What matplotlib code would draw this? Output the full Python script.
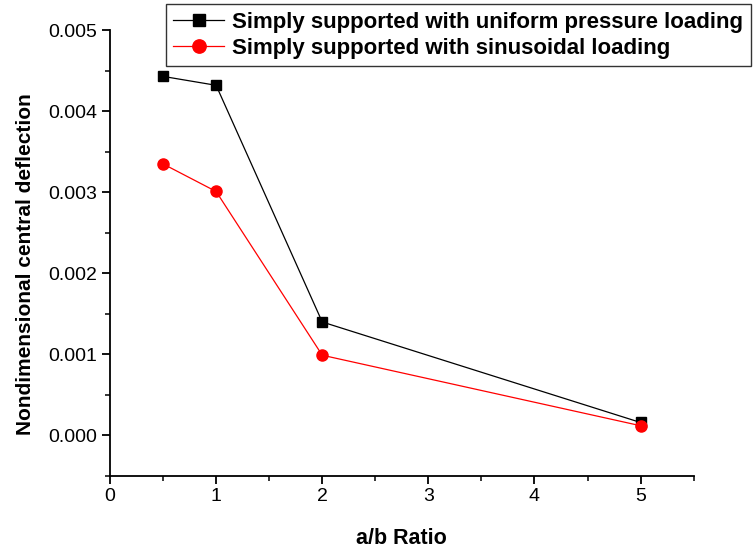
import matplotlib.pyplot as plt

# 数据
ratio = [0.5, 1, 2, 5]
uniform = [0.00443, 0.00432, 0.00140, 0.00016]
sinusoidal = [0.00335, 0.00301, 0.00099, 0.00012]

plt.rcParams['font.family'] = ['Liberation Sans', 'DejaVu Sans']

fig = plt.figure(figsize=(7.56, 5.49), dpi=100)
ax = fig.add_axes([0.1455, 0.133, 0.772, 0.812])

ax.plot(ratio, uniform, color='black', lw=0.9, marker='s', ms=7,
        label='Simply supported with uniform pressure loading')
ax.plot(ratio, sinusoidal, color='red', lw=0.9, marker='o', ms=8,
        label='Simply supported with sinusoidal loading')

ax.set_xlim(0, 5.5)
ax.set_ylim(-0.0005, 0.005)
ax.set_xticks([0, 1, 2, 3, 4, 5])
ax.set_xticks([0.5, 1.5, 2.5, 3.5, 4.5, 5.5], minor=True)
ax.set_yticks([0, 0.001, 0.002, 0.003, 0.004, 0.005])
ax.set_yticks([-0.0005, 0.0005, 0.0015, 0.0025, 0.0035, 0.0045], minor=True)
ax.yaxis.set_major_formatter(plt.FormatStrFormatter('%.3f'))

for s in ['top', 'right']:
    ax.spines[s].set_visible(False)
for s in ['left', 'bottom']:
    ax.spines[s].set_linewidth(1.3)
ax.tick_params(which='major', direction='out', length=6, width=1.3, labelsize=14, pad=3)
ax.tick_params(which='minor', direction='out', length=3.5, width=1.1)

ax.set_xlabel('a/b Ratio', fontsize=15.5, fontweight='bold', labelpad=16)
ax.set_ylabel('Nondimensional central deflection', fontsize=15, fontweight='bold')
ax.yaxis.set_label_coords(-0.128, 0.475)

leg = fig.legend(loc='upper left', bbox_to_anchor=(0.219, 0.992), frameon=True,
                 fancybox=False, edgecolor='black', handlelength=2.3,
                 prop={'weight': 'bold', 'size': 16}, borderpad=0.35,
                 labelspacing=0.2, handletextpad=0.35, borderaxespad=0,
                 markerscale=1.2)
leg.get_frame().set_linewidth(1.0)

plt.savefig('out.png', dpi=100)
